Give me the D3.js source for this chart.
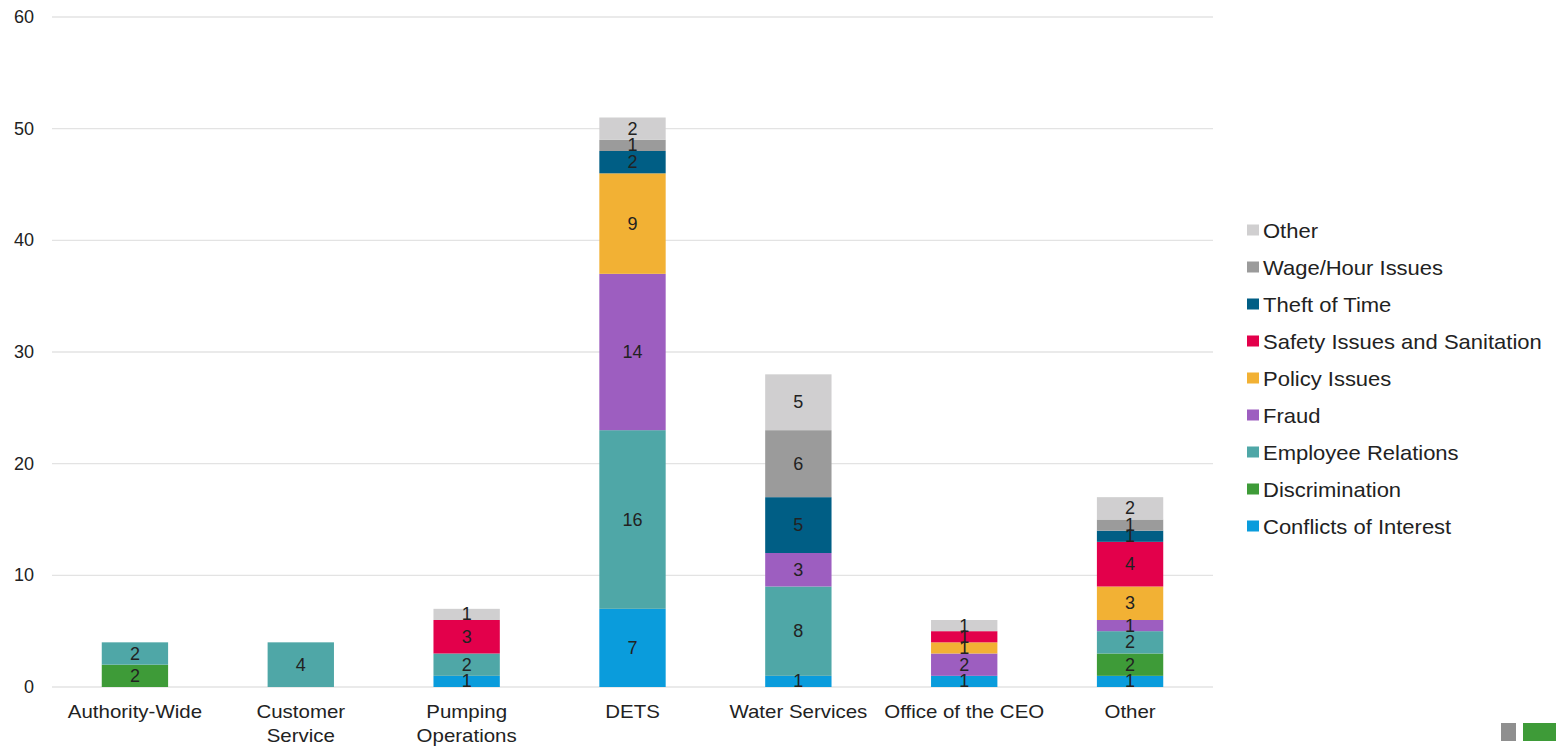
<!DOCTYPE html>
<html>
<head>
<meta charset="utf-8">
<script src="https://cdn.jsdelivr.net/npm/d3@7"></script>
<style>
  html, body { margin: 0; padding: 0; background: #fff; }
  svg { display: block; font-family: "Liberation Sans", Arial, sans-serif; }
</style>
</head>
<body>
<svg id="chart" width="1556" height="749"></svg>
<script>
// Departments along the x axis (with line breaks for the wrapped labels)
const departments = ["Authority-Wide", "Customer Service", "Pumping Operations", "DETS", "Water Services", "Office of the CEO", "Other"];
const departmentLines = [["Authority-Wide"], ["Customer", "Service"], ["Pumping", "Operations"], ["DETS"], ["Water Services"], ["Office of the CEO"], ["Other"]];

// Complaint types, bottom to top of each stack
const complaintTypes = ["Conflicts of Interest", "Discrimination", "Employee Relations", "Fraud", "Policy Issues", "Safety Issues and Sanitation", "Theft of Time", "Wage/Hour Issues", "Other"];
const typeColors = ["#0a9cdc", "#3e9b38", "#4fa7a7", "#9d5ec0", "#f2b134", "#e3004b", "#005e85", "#9b9b9b", "#d0cfd0"];

// Counts per complaint type, one value per department
const conflictsOfInterest = [0, 0, 1, 7, 1, 1, 1];
const discrimination      = [2, 0, 0, 0, 0, 0, 2];
const employeeRelations   = [2, 4, 2, 16, 8, 0, 2];
const fraud               = [0, 0, 0, 14, 3, 2, 1];
const policyIssues        = [0, 0, 0, 9, 0, 1, 3];
const safetySanitation    = [0, 0, 3, 0, 0, 1, 4];
const theftOfTime         = [0, 0, 0, 2, 5, 0, 1];
const wageHourIssues      = [0, 0, 0, 1, 6, 0, 1];
const otherIssues         = [0, 0, 1, 2, 5, 1, 2];

const yTicks = [0, 10, 20, 30, 40, 50, 60];

const seriesValues = [conflictsOfInterest, discrimination, employeeRelations, fraud, policyIssues, safetySanitation, theftOfTime, wageHourIssues, otherIssues];

const table = departments.map((d, i) => {
  const row = { department: d };
  complaintTypes.forEach((t, k) => { row[t] = seriesValues[k][i]; });
  return row;
});

const svg = d3.select("#chart");
const plot = { left: 52, right: 1213, top: 17, bottom: 687 };

const x = d3.scaleBand().domain(departments).range([plot.left, plot.right]).paddingInner(0.6).paddingOuter(0.3);
const y = d3.scaleLinear().domain([0, 60]).range([plot.bottom, plot.top]);
const color = d3.scaleOrdinal().domain(complaintTypes).range(typeColors);

// Horizontal gridlines
svg.append("g").selectAll("line").data(yTicks).join("line")
  .attr("x1", plot.left).attr("x2", plot.right)
  .attr("y1", d => y(d)).attr("y2", d => y(d))
  .attr("stroke", "#e3e3e3").attr("stroke-width", 1.3);

// Y tick labels
svg.append("g").selectAll("text").data(yTicks).join("text")
  .attr("x", 34).attr("y", d => y(d))
  .attr("text-anchor", "end").attr("dominant-baseline", "central")
  .attr("font-size", 18).attr("fill", "#222")
  .text(d => d);

// Stacked bars
const stacked = d3.stack().keys(complaintTypes)(table);
const layers = svg.append("g").selectAll("g").data(stacked).join("g")
  .attr("fill", d => color(d.key));

layers.selectAll("rect").data(d => d.filter(s => s[1] - s[0] > 0)).join("rect")
  .attr("x", s => x(s.data.department))
  .attr("width", x.bandwidth())
  .attr("y", s => y(s[1]))
  .attr("height", s => y(s[0]) - y(s[1]));

// Value labels centred in each segment
const labels = svg.append("g");
stacked.forEach(layer => {
  layer.forEach(s => {
    const v = s[1] - s[0];
    if (v <= 0) return;
    labels.append("text")
      .attr("x", x(s.data.department) + x.bandwidth() / 2)
      .attr("y", y((s[0] + s[1]) / 2))
      .attr("text-anchor", "middle").attr("dominant-baseline", "central")
      .attr("font-size", 18).attr("fill", "#222")
      .text(v);
  });
});

// X category labels (slightly widened type)
const xl = svg.append("g").selectAll("g").data(departments).join("g")
  .attr("transform", d => `translate(${x(d) + x.bandwidth() / 2}, 718) scale(1.17, 1)`)
  .append("text")
  .attr("text-anchor", "middle")
  .attr("font-size", 17.5).attr("fill", "#222");
xl.each(function(d, i) {
  const t = d3.select(this);
  departmentLines[i].forEach((line, j) => {
    t.append("tspan").attr("x", 0).attr("dy", j === 0 ? 0 : 24).text(line);
  });
});

// Legend (top entry is the last series)
const legendOrder = complaintTypes.slice().reverse();
const legend = svg.append("g").selectAll("g").data(legendOrder).join("g")
  .attr("transform", (d, i) => `translate(1247, ${230.5 + i * 37})`);
legend.append("rect").attr("x", 0).attr("y", -6).attr("width", 12).attr("height", 11)
  .attr("fill", d => color(d));
legend.append("g").attr("transform", "translate(16, 0) scale(1.1, 1)")
  .append("text").attr("x", 0).attr("y", 0)
  .attr("dominant-baseline", "central")
  .attr("font-size", 20).attr("fill", "#222")
  .text(d => d);

// Small toolbar blocks in the lower-right corner
svg.append("rect").attr("x", 1501).attr("y", 723).attr("width", 15).attr("height", 18).attr("fill", "#8f8f8f");
svg.append("rect").attr("x", 1523).attr("y", 723).attr("width", 33).attr("height", 18).attr("fill", "#3e9b38");
</script>
</body>
</html>
